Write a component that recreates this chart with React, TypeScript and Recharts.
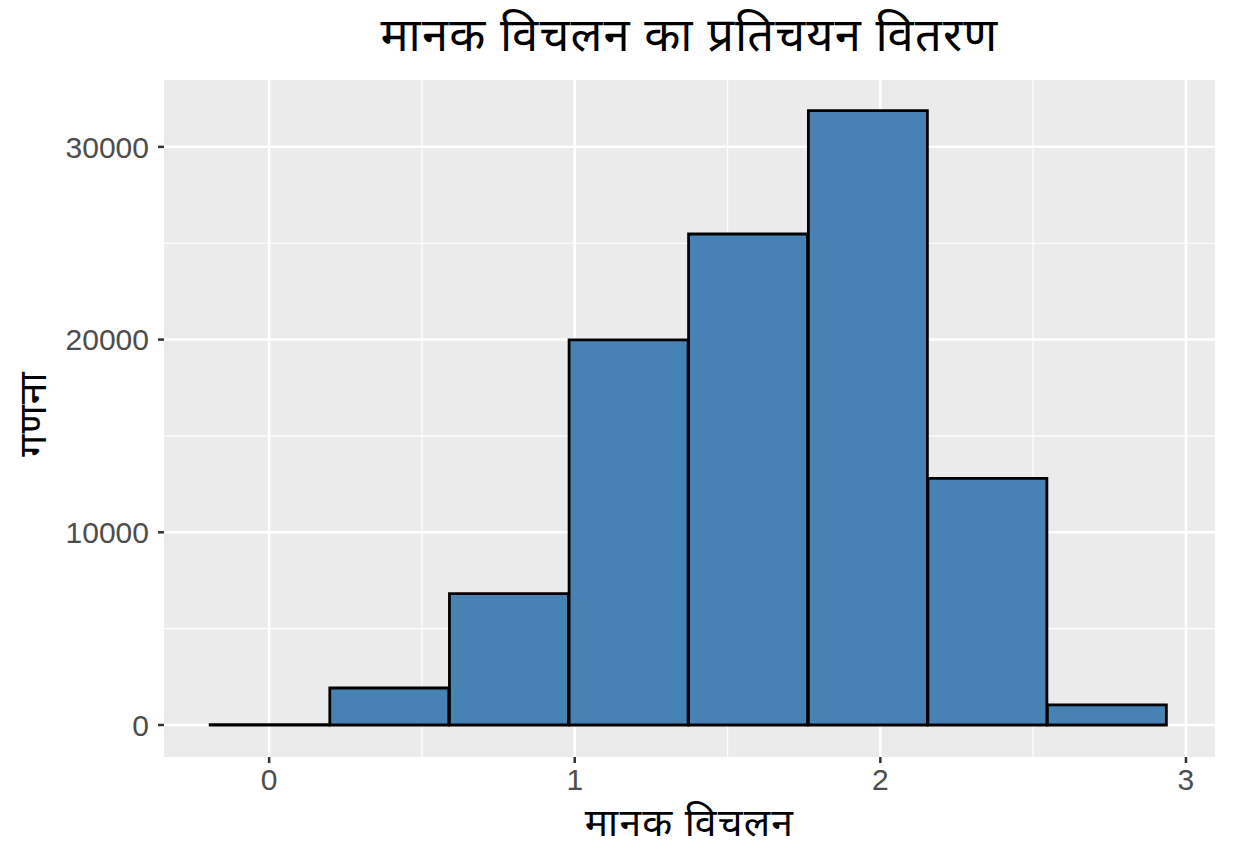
import React from 'react';
import { ComposedChart, Bar, XAxis, YAxis, CartesianGrid } from 'recharts';

const binCenters = [0.0027, 0.394, 0.7855, 1.177, 1.568, 1.96, 2.351, 2.742];
const binCounts = [25, 1920, 6820, 19980, 25480, 31880, 12800, 1040];
const xTicks = [0, 1, 2, 3];
const yTicks = [0, 10000, 20000, 30000];
const xMinor = [0.5, 1.5, 2.5];
const yMinor = [5000, 15000, 25000];
const titleText = 'मानक विचलन का प्रतिचयन वितरण';
const xLabel = 'मानक विचलन';
const yLabel = 'गणना';

const data = binCenters.map((c, i) => ({ mid: c, count: binCounts[i] }));

const FONT = '"Noto Sans", "Liberation Sans", Arial, sans-serif';
const TICKFONT = '"Liberation Sans", Arial, sans-serif';

export default function App() {
  return (
    <div style={{ position: 'absolute', left: 0, top: 0, width: 1234, height: 864, background: '#fff', fontFamily: FONT }}>
      <div style={{ position: 'absolute', left: 164, width: 1051, top: 1, textAlign: 'center', fontSize: 47, color: '#000', lineHeight: '64px', letterSpacing: 1.2 }}>
        {titleText}
      </div>
      <div style={{ position: 'absolute', left: 164, width: 1051, top: 799, textAlign: 'center', fontSize: 39, color: '#000', lineHeight: '44px', letterSpacing: 1.2 }}>
        {xLabel}
      </div>
      <div style={{ position: 'absolute', left: 31, top: 414, width: 0, height: 0 }}>
        <div style={{ position: 'absolute', left: 0, top: 0, transform: 'translate(-50%, -50%) rotate(-90deg)', fontSize: 39, color: '#000', whiteSpace: 'nowrap', lineHeight: '44px', letterSpacing: 1.2 }}>
          {yLabel}
        </div>
      </div>
      <ComposedChart
        width={1234}
        height={864}
        data={data}
        margin={{ top: 80, right: 19, bottom: 27, left: 44 }}
        barCategoryGap={0}
        barGap={0}
      >
        <CartesianGrid fill="#EBEBEB" stroke="#FFFFFF" strokeWidth={1.2} horizontalValues={yMinor} verticalValues={xMinor} />
        <CartesianGrid fill="none" stroke="#FFFFFF" strokeWidth={2.5} horizontalValues={yTicks} verticalValues={xTicks} />
        <XAxis
          type="number"
          dataKey="mid"
          domain={[-0.344, 3.095]}
          ticks={xTicks}
          allowDataOverflow
          height={80}
          axisLine={false}
          tickSize={6}
          tickLine={{ stroke: '#333333', strokeWidth: 2.5 }}
          tickMargin={6}
          tick={{ fill: '#4D4D4D', fontSize: 30, fontFamily: TICKFONT }}
        />
        <YAxis
          type="number"
          domain={[-1660, 33470]}
          ticks={yTicks}
          allowDataOverflow
          width={120}
          axisLine={false}
          tickSize={6}
          tickLine={{ stroke: '#333333', strokeWidth: 2.5 }}
          tickMargin={9}
          tick={{ fill: '#4D4D4D', fontSize: 30, fontFamily: TICKFONT }}
        />
        <Bar dataKey="count" fill="#4682B4" stroke="#000000" strokeWidth={2.8} isAnimationActive={false} />
      </ComposedChart>
    </div>
  );
}
